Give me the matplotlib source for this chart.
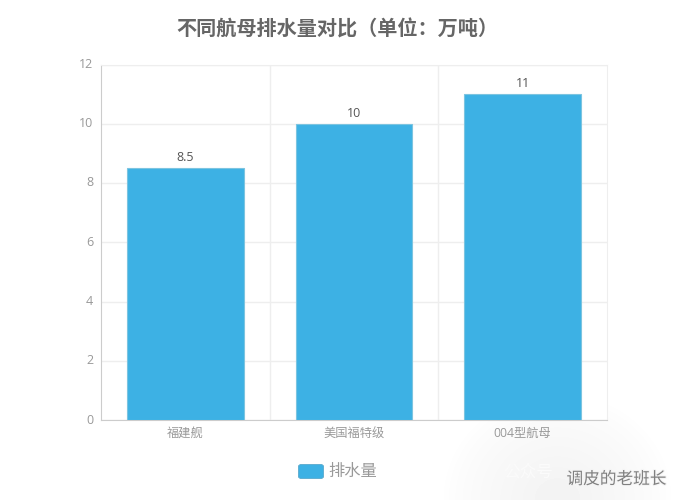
import matplotlib
matplotlib.use("Agg")
import matplotlib.patheffects as pe
import matplotlib.pyplot as plt
import matplotlib.transforms as mtrans
import numpy as np
from matplotlib.patches import FancyBboxPatch

plt.rcParams["font.family"] = ["Open Sans", "Noto Sans CJK SC", "DejaVu Sans"]

categories = ["福建舰", "美国福特级", "004型航母"]
displacement = [8.5, 10, 11]
value_labels = ["8.5", "10", "11"]
y_ticks = [0, 2, 4, 6, 8, 10, 12]

W, H = 675, 500
fig = plt.figure(figsize=(W / 100, H / 100), dpi=100)

# faint grey glow behind the watermark, lower right corner
glow_ax = fig.add_axes([440 / W, 0, 235 / W, 110 / H])
gx, gy = np.meshgrid(np.linspace(-1, 1, 235), np.linspace(0, 1, 110))
glow = np.clip(1 - np.sqrt(gx**2 + gy**2), 0, 1) ** 0.7
glow_ax.imshow(1 - 0.05 * glow, cmap="gray", vmin=0, vmax=1, aspect="auto",
               origin="lower")
glow_ax.axis("off")

ax = fig.add_axes([101 / W, 1 - 420 / H, 506 / W, 355.5 / H])

positions = range(len(categories))
ax.bar(positions, displacement, width=0.69, color="#3db1e4",
       edgecolor="#7cc4e0", linewidth=0.8, zorder=3)

for pos, val, lab in zip(positions, displacement, value_labels):
    ax.annotate(lab, (pos, val), xytext=(0, 3), textcoords="offset points",
                ha="center", va="bottom", fontsize=9, color="#555555")

ax.set_xlim(-0.5, 2.5)
ax.set_ylim(0, 12)
ax.set_yticks(y_ticks)
ax.set_xticks(positions, categories)
ax.tick_params(axis="y", length=0, labelsize=9, labelcolor="#999999", pad=5.5)
ax.tick_params(axis="x", length=0, labelsize=8.8, labelcolor="#999999", pad=4.8)

# y labels sit a little above their grid lines in the original
lift = mtrans.ScaledTranslation(0, 1.5 / 100, fig.dpi_scale_trans)
for label in ax.get_yticklabels():
    label.set_transform(label.get_transform() + lift)

# vertical separators between categories
for sep in [0.5, 1.5]:
    ax.axvline(sep, color="#eeeeee", linewidth=1, zorder=1)
ax.grid(axis="y", color="#eeeeee", linewidth=1, zorder=1)
ax.set_axisbelow(True)

for side in ["top", "right"]:
    ax.spines[side].set_color("#eeeeee")
for side in ["left", "bottom"]:
    ax.spines[side].set_color("#cccccc")

fig.text(337 / W, 1 - 29 / H, "不同航母排水量对比（单位：万吨）", ha="center", va="center",
         fontsize=14.5, fontweight="bold", color="#666666",
         family=["Noto Sans CJK SC", "DejaVu Sans"])

# legend
fig.add_artist(FancyBboxPatch((298.5 / W, 1 - 478.5 / H), 25 / W, 14 / H,
                              boxstyle="round,pad=0,rounding_size=0.004",
                              transform=fig.transFigure, facecolor="#3db1e4",
                              edgecolor="#5aa9cc", linewidth=0.6))
fig.text(328 / W, 1 - 471.5 / H, "排水量", ha="left", va="center",
         fontsize=11.7, color="#999999")

# watermark
fig.text(503 / W, 1 - 472 / H, "公众号", ha="left", va="center", fontsize=12,
         color="#fbfbfb")
fig.text(566.5 / W, 1 - 480 / H, "调皮的老班长", ha="left", va="center", fontsize=12,
         color="#808080",
         path_effects=[pe.withStroke(linewidth=1.5, foreground="#f4f4f4")])

fig.savefig("out.png", dpi=100)
